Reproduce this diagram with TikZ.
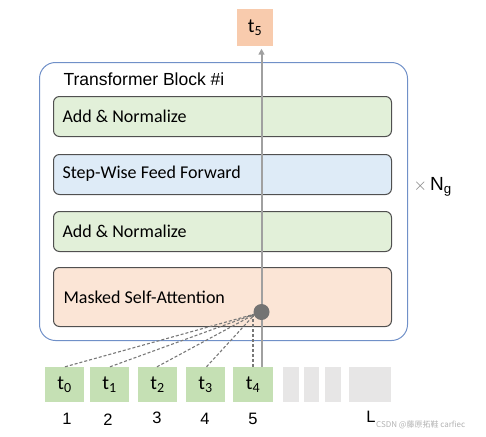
\documentclass[tikz,border=0pt]{standalone}
\usepackage{fontspec}
\setmainfont{Carlito}
\newfontfamily\arialf{Liberation Sans}
\newfontfamily\cjkf{Noto Sans CJK SC}
\usetikzlibrary{arrows.meta}
\definecolor{outerc}{HTML}{7090C8}
\definecolor{boxline}{HTML}{505050}
\definecolor{gfill}{HTML}{E2F0D9}
\definecolor{bfill}{HTML}{DEEBF7}
\definecolor{ofill}{HTML}{FBE5D6}
\definecolor{tokg}{HTML}{C5E0B4}
\definecolor{toko}{HTML}{F8CBAD}
\definecolor{padg}{HTML}{E7E6E6}
\definecolor{arrc}{HTML}{A0A0A0}
\definecolor{dashc}{HTML}{787878}
\begin{document}
\begin{tikzpicture}[x=1pt,y=-1pt,
  layerbox/.style={draw=boxline,line width=1pt,rounded corners=6pt,minimum width=338pt,inner sep=0pt,anchor=north west},
  layertext/.style={font=\fontsize{18}{20}\selectfont,anchor=west},
  tokbox/.style={fill=tokg,minimum width=39pt,minimum height=35pt,inner sep=0pt,font=\fontsize{20}{22}\selectfont},
  padbox/.style={fill=padg,minimum height=35pt,inner sep=0pt,anchor=north west},
  numtext/.style={font=\arialf\fontsize{16.5}{18}\selectfont},
  attn/.style={draw=dashc,line width=1.1pt,dash pattern=on 3pt off 2pt}]
\useasboundingbox (0,0) rectangle (486,436);
% outer block
\node[draw=outerc,line width=1pt,rounded corners=16pt,minimum width=368pt,minimum height=278pt,anchor=north west,inner sep=0pt] (block) at (39,62) {};
\node[font=\arialf\fontsize{17.5}{20}\selectfont,anchor=west] (title) at (60,79) {Transformer Block \#i};
% layers
\node[layerbox,fill=gfill,minimum height=40pt] (an1) at (53,96) {};
\node[layertext] (an1t) at (59,116) {Add \& Normalize};
\node[layerbox,fill=bfill,minimum height=40pt] (ff) at (53,154) {};
\node[layertext] (fft) at (59,174) {Step-Wise Feed Forward};
\node[layerbox,fill=gfill,minimum height=40pt] (an2) at (53,211) {};
\node[layertext] (an2t) at (59,231) {Add \& Normalize};
\node[layerbox,fill=ofill,minimum height=59pt] (msa) at (53,267) {};
\node[layertext] (msat) at (60,297) {Masked Self-Attention};
% times N_g
\node[font=\arialf\fontsize{19}{20}\selectfont,anchor=west] (ng) at (410,187) {\textcolor{gray}{$\times$}\,N\textsubscript{g}};
% tokens
\node[tokbox] (t0) at (64.5,384.5) {t\textsubscript{0}};
\node[tokbox] (t1) at (109.5,384.5) {t\textsubscript{1}};
\node[tokbox] (t2) at (157.5,384.5) {t\textsubscript{2}};
\node[tokbox] (t3) at (205.5,384.5) {t\textsubscript{3}};
\node[tokbox,minimum width=40pt] (t4) at (253,384.5) {t\textsubscript{4}};
\node[padbox,minimum width=16pt] (p1) at (283,367) {};
\node[padbox,minimum width=15pt] (p2) at (304,367) {};
\node[padbox,minimum width=16pt] (p3) at (325,367) {};
\node[padbox,minimum width=42pt] (p4) at (349,367) {};
\node[tokbox,fill=toko,minimum width=36pt,minimum height=37pt] (t5) at (255,27.5) {t\textsubscript{5}};
% numbers
\node[numtext] (n1) at (67,419) {1};
\node[numtext] (n2) at (108,420) {2};
\node[numtext] (n3) at (157,418) {3};
\node[numtext] (n4) at (205,419) {4};
\node[numtext] (n5) at (253,419) {5};
\node[numtext] (nl) at (371,417) {L};
\node[font=\cjkf\fontsize{8}{9}\selectfont,text=black!30,anchor=west,inner sep=0pt] (wm) at (376,425) {CSDN @藤原拓鞋 carfiec};
% attention dot and lines
\coordinate (dotc) at (261.5,312);
\coordinate (conv) at (255,314);
\draw[arrc,line width=2pt] (dotc) -- (dotc |- t4.north);
\draw[arrc,line width=2pt,-{Triangle[length=6pt,width=6pt]}] (dotc) -- ([yshift=-2.5pt]dotc |- t5.south);
\draw[attn] ([xshift=0.5pt]t0.north) -- (conv);
\draw[attn] ([xshift=0.5pt]t1.north) -- (conv);
\draw[attn] ([xshift=-0.5pt]t2.north) -- (conv);
\draw[attn] ([xshift=1pt]t3.north) -- (conv);
\draw[attn] (t4.north) -- (t4.north |- conv);
\fill[black!55] (dotc) circle (8pt);
\end{tikzpicture}
\end{document}
